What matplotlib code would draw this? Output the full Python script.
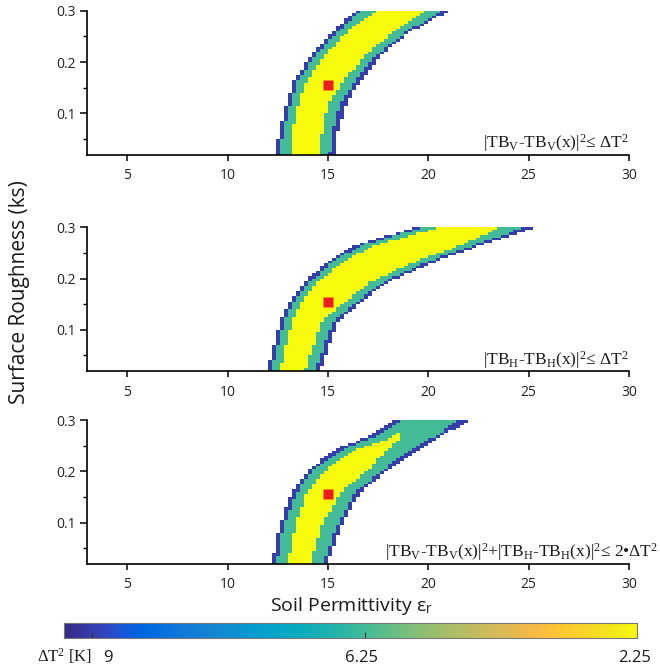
import numpy as np
import matplotlib
matplotlib.use("Agg")
import matplotlib.pyplot as plt
from matplotlib.colors import LinearSegmentedColormap

plt.rcParams['font.family'] = ['Open Sans', 'DejaVu Sans']
plt.rcParams['mathtext.fontset'] = 'custom'
plt.rcParams['mathtext.rm'] = 'Liberation Serif'
plt.rcParams['mathtext.it'] = 'Liberation Serif:italic'
plt.rcParams['mathtext.sf'] = 'Open Sans'

# MATLAB-style "parula" colour table
PARULA = [
    (0.2081, 0.1663, 0.5292), (0.2116, 0.1898, 0.5777), (0.2123, 0.2138, 0.6270),
    (0.2081, 0.2386, 0.6771), (0.1959, 0.2645, 0.7279), (0.1707, 0.2919, 0.7792),
    (0.1253, 0.3242, 0.8303), (0.0591, 0.3598, 0.8683), (0.0117, 0.3875, 0.8820),
    (0.0060, 0.4086, 0.8828), (0.0165, 0.4266, 0.8786), (0.0329, 0.4430, 0.8720),
    (0.0498, 0.4586, 0.8641), (0.0629, 0.4737, 0.8554), (0.0723, 0.4887, 0.8467),
    (0.0779, 0.5040, 0.8384), (0.0793, 0.5200, 0.8312), (0.0749, 0.5375, 0.8263),
    (0.0641, 0.5570, 0.8240), (0.0488, 0.5772, 0.8228), (0.0343, 0.5966, 0.8199),
    (0.0265, 0.6137, 0.8135), (0.0239, 0.6287, 0.8038), (0.0231, 0.6418, 0.7913),
    (0.0228, 0.6535, 0.7768), (0.0267, 0.6642, 0.7607), (0.0384, 0.6743, 0.7436),
    (0.0590, 0.6838, 0.7254), (0.0843, 0.6928, 0.7062), (0.1133, 0.7015, 0.6859),
    (0.1453, 0.7098, 0.6646), (0.1801, 0.7177, 0.6424), (0.2178, 0.7250, 0.6193),
    (0.2586, 0.7317, 0.5954), (0.3022, 0.7376, 0.5712), (0.3482, 0.7424, 0.5473),
    (0.3953, 0.7459, 0.5244), (0.4420, 0.7481, 0.5033), (0.4871, 0.7491, 0.4840),
    (0.5300, 0.7491, 0.4661), (0.5709, 0.7485, 0.4494), (0.6099, 0.7473, 0.4337),
    (0.6473, 0.7456, 0.4188), (0.6834, 0.7435, 0.4044), (0.7184, 0.7411, 0.3905),
    (0.7525, 0.7384, 0.3768), (0.7858, 0.7356, 0.3633), (0.8185, 0.7327, 0.3498),
    (0.8507, 0.7299, 0.3360), (0.8824, 0.7274, 0.3217), (0.9139, 0.7258, 0.3063),
    (0.9450, 0.7261, 0.2886), (0.9739, 0.7314, 0.2666), (0.9938, 0.7455, 0.2403),
    (0.9990, 0.7653, 0.2164), (0.9955, 0.7861, 0.1967), (0.9880, 0.8066, 0.1794),
    (0.9789, 0.8271, 0.1633), (0.9697, 0.8481, 0.1475), (0.9626, 0.8705, 0.1309),
    (0.9589, 0.8949, 0.1132), (0.9598, 0.9218, 0.0948), (0.9661, 0.9514, 0.0755),
    (0.9763, 0.9831, 0.0538),
]
parula = LinearSegmentedColormap.from_list("parula", PARULA, N=256)

# ---------------------------------------------------------------- data
# ΔT² thresholds [K²] and where each sits along the colour scale
dT2_levels = [9.0, 6.25, 2.25]
dT2_scale_pos = [0.049, 0.525, 1.0]
dT2_labels = ["9", "6.25", "2.25"]

# true soil state
true_eps, true_ks = 15.0, 0.155

# retrieval grid
eps_range = (3.0, 30.0)
ks_range = (0.02, 0.30)
eps_step, ks_step = 0.2, 0.005

x_ticks = [5, 10, 15, 20, 25, 30]
y_ticks = [0.1, 0.2, 0.3]

# V-pol: band edges (soil permittivity) at each roughness knot
ks_v = [0.02, 0.06, 0.117, 0.162, 0.214, 0.259, 0.30]
v_blue_lo = [12.43, 12.53, 12.90, 13.26, 14.18, 15.22, 16.40]
v_teal_lo = [12.63, 12.73, 13.10, 13.46, 14.39, 15.46, 16.65]
v_yel_lo = [13.13, 13.20, 13.50, 13.93, 14.84, 15.96, 17.45]
v_yel_hi = [14.59, 14.70, 15.00, 15.76, 16.89, 18.25, 19.80]
v_teal_hi = [15.09, 15.20, 15.60, 16.34, 17.42, 18.92, 20.70]
v_blue_hi = [15.34, 15.45, 15.90, 16.59, 17.67, 19.10, 21.10]

# H-pol
ks_h = [0.02, 0.115, 0.152, 0.193, 0.233, 0.265, 0.30]
h_blue_lo = [11.98, 12.60, 13.01, 13.84, 14.92, 16.34, 19.40]
h_teal_lo = [12.18, 12.80, 13.21, 14.09, 15.26, 16.67, 19.80]
h_yel_lo = [12.60, 13.20, 13.68, 14.51, 15.76, 17.34, 20.70]
h_yel_hi = [13.84, 14.68, 15.76, 17.09, 19.33, 21.66, 23.60]
h_teal_hi = [14.34, 15.26, 16.34, 17.75, 20.00, 22.32, 24.80]
h_blue_hi = [14.59, 15.50, 16.59, 18.00, 20.33, 22.66, 25.30]

# combined V + H
ks_vh = [0.02, 0.091, 0.158, 0.203, 0.242, 0.268, 0.28, 0.30]
vh_blue_lo = [12.21, 12.55, 13.18, 14.01, 15.34, 17.00, 17.50, 18.33]
vh_teal_lo = [12.43, 12.76, 13.43, 14.26, 15.67, 17.34, 17.85, 18.75]
vh_yel_lo = [13.01, 13.35, 13.93, 14.92, 16.34, 18.33, 18.70, 18.70]
vh_yel_hi = [14.09, 14.67, 15.59, 17.00, 18.00, 18.66, 18.70, 18.70]
vh_teal_hi = [14.76, 15.42, 16.34, 17.75, 19.16, 20.33, 20.80, 21.49]
vh_blue_hi = [14.97, 15.64, 16.59, 18.00, 19.50, 20.66, 21.20, 22.07]

panels = [
    (ks_v, [v_blue_lo, v_teal_lo, v_yel_lo, v_yel_hi, v_teal_hi, v_blue_hi],
     r"|TB$_\mathrm{V}$-TB$_\mathrm{V}$(x)|$^\mathrm{2}$≤ ΔT$^\mathrm{2}$", 1.0),
    (ks_h, [h_blue_lo, h_teal_lo, h_yel_lo, h_yel_hi, h_teal_hi, h_blue_hi],
     r"|TB$_\mathrm{H}$-TB$_\mathrm{H}$(x)|$^\mathrm{2}$≤ ΔT$^\mathrm{2}$", 1.0),
    (ks_vh, [vh_blue_lo, vh_teal_lo, vh_yel_lo, vh_yel_hi, vh_teal_hi, vh_blue_hi],
     r"|TB$_\mathrm{V}$-TB$_\mathrm{V}$(x)|$^\mathrm{2}$+|TB$_\mathrm{H}$-TB$_\mathrm{H}$(x)|$^\mathrm{2}$≤ 2•ΔT$^\mathrm{2}$",
     1.053),
]

# ---------------------------------------------------------------- grid
eps_edges = np.arange(eps_range[0], eps_range[1] + 1e-9, eps_step)
ks_edges = np.arange(ks_range[0], ks_range[1] + 1e-9, ks_step)
eps_c = 0.5 * (eps_edges[:-1] + eps_edges[1:])
ks_c = 0.5 * (ks_edges[:-1] + ks_edges[1:])


def band_map(ks_knots, edges):
    """Cost level of every grid cell, NaN outside the accepted region."""
    E = np.broadcast_to(eps_c[None, :], (ks_c.size, eps_c.size))
    b = [np.interp(ks_c, ks_knots, e)[:, None] for e in edges]
    Z = np.full(E.shape, np.nan)
    Z[(E >= b[0]) & (E < b[5])] = dT2_levels[0]
    Z[(E >= b[1]) & (E < b[4])] = dT2_levels[1]
    Z[(E >= b[2]) & (E < b[3])] = dT2_levels[2]
    return Z


def to_scale(Z):
    pos = np.interp(Z, dT2_levels[::-1], dT2_scale_pos[::-1])
    return np.ma.masked_invalid(np.where(np.isfinite(Z), pos, np.nan))


# ---------------------------------------------------------------- figure
W, H = 660, 671
fig = plt.figure(figsize=(W / 100, H / 100), dpi=100)

ax_left, ax_right = 87, 629
panel_px = [(10.7, 154.5), (227.3, 370.7), (420.0, 563.5)]

for (top, bot), (ks_knots, edges, label, lab_x) in zip(panel_px, panels):
    ax = fig.add_axes([ax_left / W, 1 - bot / H, (ax_right - ax_left) / W, (bot - top) / H])
    Z = band_map(ks_knots, edges)
    ax.pcolormesh(eps_edges, ks_edges, to_scale(Z), cmap=parula, vmin=0, vmax=1,
                  shading="flat", antialiased=False)
    ax.plot([true_eps], [true_ks], "s", color="#ed1c24", ms=7.3, mec="none")
    ax.set_xlim(*eps_range)
    ax.set_ylim(*ks_range)
    ax.set_xticks(x_ticks)
    ax.set_yticks(y_ticks)
    ax.set_yticks([0.05, 0.15, 0.25], minor=True)
    ax.set_yticklabels([f"{t:.1f}" for t in y_ticks])
    for s in ("top", "right"):
        ax.spines[s].set_visible(False)
    for s in ("left", "bottom"):
        ax.spines[s].set_linewidth(1.2)
    ax.tick_params(axis="x", which="major", length=4, width=1.1, pad=6,
                   labelsize=10, labelcolor="#222222")
    ax.tick_params(axis="y", which="major", length=5, width=1.1, pad=3,
                   labelsize=10, labelcolor="#222222")
    ax.tick_params(axis="y", which="minor", length=3, width=1.0)
    ax.text(lab_x, 0.045, label, transform=ax.transAxes, ha="right", va="baseline",
            fontsize=12.5, family="Liberation Serif", color="#1a1a1a",
            clip_on=False)

fig.text(20 / W, 1 - 292 / H, "Surface Roughness (ks)", rotation=90,
         ha="center", va="center", fontsize=15, color="#1a1a1a")
fig.text(352 / W, 1 - 611 / H, r"Soil Permittivity ε$_\mathsf{r}$",
         ha="center", va="baseline", fontsize=14, color="#1a1a1a")

# colour scale
cb_l, cb_r, cb_t, cb_b = 64, 637, 623, 638
cax = fig.add_axes([cb_l / W, 1 - cb_b / H, (cb_r - cb_l) / W, (cb_b - cb_t) / H])
grad = np.linspace(0, 1, 512)[None, :]
cax.imshow(grad, cmap=parula, aspect="auto", extent=(0, 1, 0, 1), vmin=0, vmax=1)
cax.set_xlim(0, 1)
cax.set_ylim(0, 1)
cax.set_yticks([])
cax.set_xticks(dT2_scale_pos[:2])
cax.set_xticklabels([])
cax.tick_params(axis="x", direction="in", length=4, width=0.8, color="#333333")
for s in cax.spines.values():
    s.set_color("#777777")
    s.set_linewidth(0.8)

label_px = [108, 362, 635]
for lab, xp in zip(dT2_labels, label_px):
    fig.text(xp / W, 1 - 662 / H, lab, ha="center", va="baseline",
             fontsize=12, color="#1a1a1a")
fig.text(37 / W, 1 - 662 / H, r"ΔT$^\mathrm{2}$ [K]", ha="left", va="baseline",
         fontsize=12, family="Liberation Serif", color="#1a1a1a")

fig.savefig("out.png", dpi=100)
